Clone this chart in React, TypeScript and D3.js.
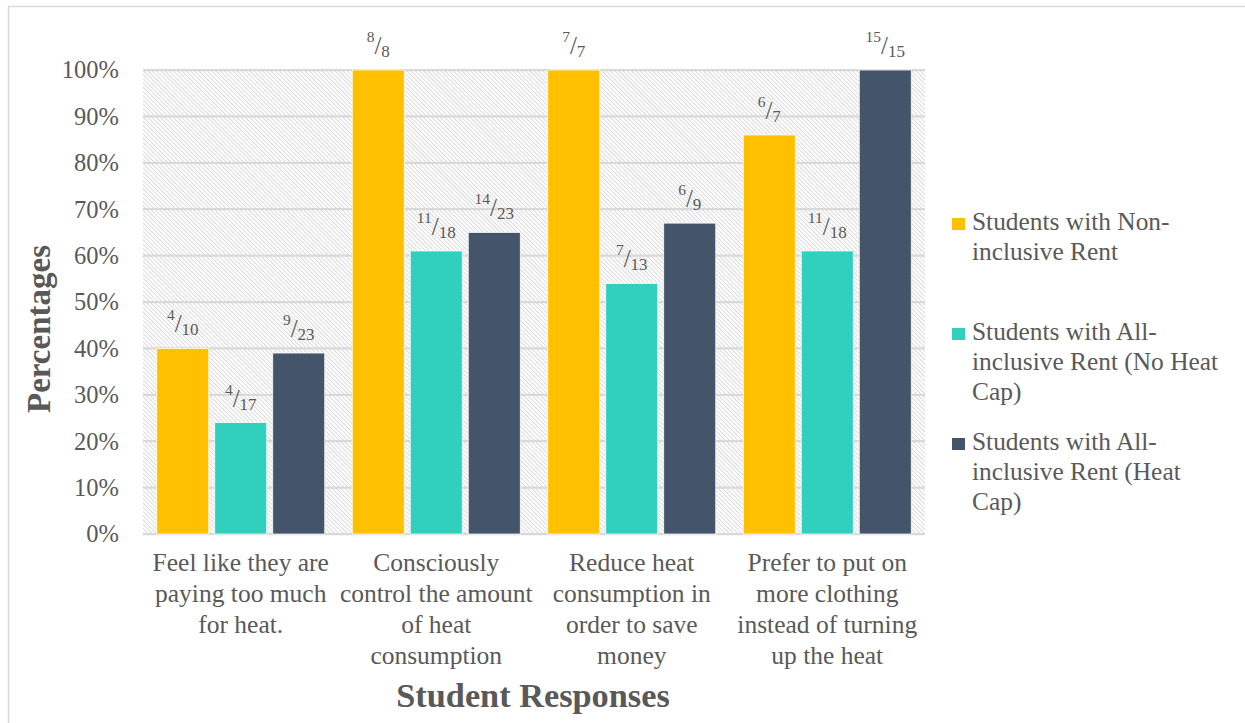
import React from "react";
import * as d3 from "d3";

// Survey categories (each label split into its display lines)
const categories: string[][] = [
  ["Feel like they are", "paying too much", "for heat."],
  ["Consciously", "control the amount", "of heat", "consumption"],
  ["Reduce heat", "consumption in", "order to save", "money"],
  ["Prefer to put on", "more clothing", "instead of turning", "up the heat"],
];

const seriesNames: string[][] = [
  ["Students with Non-", "inclusive Rent"],
  ["Students with All-", "inclusive Rent (No Heat", "Cap)"],
  ["Students with All-", "inclusive Rent (Heat", "Cap)"],
];

const seriesColors = ["#FFC000", "#31D0BE", "#44546A"];

// Percent of respondents, per series, per category
const nonInclusive = [40, 100, 100, 86];
const noHeatCap = [24, 61, 54, 61];
const heatCap = [39, 65, 67, 100];

// Respondent counts shown above each bar
const nonInclusiveCounts: [number, number][] = [[4, 10], [8, 8], [7, 7], [6, 7]];
const noHeatCapCounts: [number, number][] = [[4, 17], [11, 18], [7, 13], [11, 18]];
const heatCapCounts: [number, number][] = [[9, 23], [14, 23], [6, 9], [15, 15]];

const yTicks = [0, 10, 20, 30, 40, 50, 60, 70, 80, 90, 100];

const W = 1245;
const H = 723;
const FONT = "'Liberation Serif', 'Times New Roman', serif";
const TEXT = "#595959";
const GRID = "#d9d9d9";

export default function App() {
  const plot = { left: 143, right: 925, top: 70, bottom: 534 };
  const series = [nonInclusive, noHeatCap, heatCap];
  const counts = [nonInclusiveCounts, noHeatCapCounts, heatCapCounts];

  const x0 = d3
    .scaleBand<number>()
    .domain(d3.range(categories.length))
    .range([plot.left, plot.right])
    .paddingInner(0)
    .paddingOuter(0);
  const x1 = d3
    .scaleBand<number>()
    .domain(d3.range(series.length))
    .range([0, x0.bandwidth()])
    .paddingInner(0.1034)
    .paddingOuter(0.237);
  const y = d3.scaleLinear().domain([0, 100]).range([plot.bottom, plot.top]);

  return (
    <svg
      width={W}
      height={H}
      style={{ position: "absolute", left: 0, top: 0, background: "#fff" }}
      fontFamily={FONT}
    >
      <defs>
        <pattern
          id="hatch"
          patternUnits="userSpaceOnUse"
          width={3}
          height={3}
          patternTransform="rotate(-45)"
        >
          <rect width={3} height={3} fill="#ffffff" />
          <line x1={0.5} y1={0} x2={0.5} y2={3} stroke="#dadada" strokeWidth={1} />
        </pattern>
      </defs>

      {/* chart frame */}
      <rect x={8.5} y={6.5} width={1400} height={900} fill="none" stroke={GRID} strokeWidth={1.5} />

      {/* hatched plot background */}
      <rect
        x={plot.left}
        y={plot.top}
        width={plot.right - plot.left}
        height={plot.bottom - plot.top}
        fill="url(#hatch)"
      />

      {/* gridlines and y tick labels */}
      {yTicks.map((t) => (
        <g key={t}>
          <line
            x1={plot.left}
            x2={plot.right}
            y1={y(t)}
            y2={y(t)}
            stroke={GRID}
            strokeWidth={2.25}
          />
          <text
            x={119}
            y={y(t)}
            dy="0.34em"
            textAnchor="end"
            fontSize={24.5}
            fill={TEXT}
          >
            {t}%
          </text>
        </g>
      ))}

      {/* bars */}
      {categories.map((_, ci) =>
        series.map((vals, si) => {
          const bx = (x0(ci) as number) + (x1(si) as number);
          const bw = x1.bandwidth();
          const top = y(vals[ci]);
          return (
            <rect
              key={`b${ci}-${si}`}
              x={bx}
              y={top}
              width={bw}
              height={plot.bottom - top}
              fill={seriesColors[si]}
              stroke="#ffffff"
              strokeWidth={0.75}
            />
          );
        })
      )}

      {/* count labels above bars */}
      {categories.map((_, ci) =>
        series.map((vals, si) => {
          const cx = (x0(ci) as number) + (x1(si) as number) + x1.bandwidth() / 2;
          const top = y(vals[ci]);
          const [num, den] = counts[si][ci];
          return (
            <text
              key={`l${ci}-${si}`}
              x={cx}
              y={top - 13}
              textAnchor="middle"
              fill={TEXT}
            >
              <tspan fontSize={15.5} dy={-15}>
                {num}
              </tspan>
              <tspan fontSize={25} dy={12}>
                /
              </tspan>
              <tspan fontSize={17} dy={3}>
                {den}
              </tspan>
            </text>
          );
        })
      )}

      {/* category labels */}
      {categories.map((lines, ci) => (
        <text
          key={`c${ci}`}
          x={(x0(ci) as number) + x0.bandwidth() / 2}
          y={571}
          textAnchor="middle"
          fontSize={25.5}
          fill={TEXT}
        >
          {lines.map((ln, li) => (
            <tspan key={li} x={(x0(ci) as number) + x0.bandwidth() / 2} dy={li === 0 ? 0 : 31}>
              {ln}
            </tspan>
          ))}
        </text>
      ))}

      {/* axis titles */}
      <text
        transform="translate(50,329) rotate(-90)"
        textAnchor="middle"
        fontSize={33}
        fontWeight="bold"
        fill={TEXT}
      >
        Percentages
      </text>
      <text x={533} y={707} textAnchor="middle" fontSize={34.3} fontWeight="bold" fill={TEXT}>
        Student Responses
      </text>

      {/* legend */}
      {seriesNames.map((lines, si) => {
        const baseY = [230, 340, 450][si];
        return (
          <g key={`g${si}`}>
            <rect x={952} y={baseY - 12} width={13} height={12} fill={seriesColors[si]} />
            <text x={972} y={baseY} fontSize={25.4} fill={TEXT}>
              {lines.map((ln, li) => (
                <tspan key={li} x={972} dy={li === 0 ? 0 : 30}>
                  {ln}
                </tspan>
              ))}
            </text>
          </g>
        );
      })}
    </svg>
  );
}
